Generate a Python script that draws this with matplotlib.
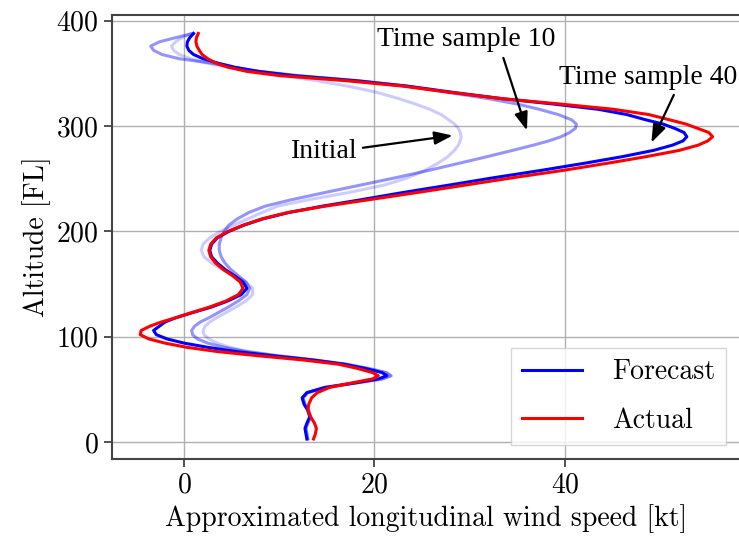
import numpy as np
import matplotlib
matplotlib.use("Agg")
import matplotlib.pyplot as plt

# altitude grid [FL] shared by all profiles
altitude = [3, 8, 13, 18, 24, 30, 36, 42, 47, 52, 56, 60, 63, 66, 70, 74, 78, 82, 86, 90,
            94, 98, 102, 106, 110, 114, 118, 123, 128, 134, 140, 146, 152, 158, 164, 170,
            176, 182, 188, 194, 200, 206, 212, 218, 224, 230, 237, 244, 251, 258, 265, 271,
            277, 282, 286, 290, 294, 298, 302, 306, 311, 316, 321, 326, 332, 338, 343, 348,
            352, 356, 360, 364, 368, 372, 376, 380, 384, 388]

# approximated longitudinal wind speed [kt]
actual = [13.6, 13.8, 13.9, 13.7, 13.3, 13.0, 13.1, 13.4, 14.0, 15.3, 17.5, 19.8, 20.4, 19.8,
          18.2, 16.2, 12.5, 7.8, 3.5, 0.3, -2.0, -3.7, -4.6, -4.5, -3.6, -2.4, -0.9, 0.8,
          2.6, 4.4, 5.7, 6.2, 5.9, 5.1, 4.1, 3.3, 2.8, 2.6, 2.8, 3.4, 4.6, 6.2, 8.2, 10.9,
          14.8, 19.3, 24.5, 29.5, 34.5, 39.8, 44.6, 48.5, 52.0, 54.0, 55.0, 55.5, 55.1,
          53.9, 52.7, 51.0, 48.8, 45.1, 39.5, 33.5, 28.0, 23.0, 17.2, 10.0, 6.6, 4.6, 3.3,
          2.5, 1.9, 1.6, 1.35, 1.25, 1.3, 1.5]

forecast = [12.9, 12.8, 12.7, 12.9, 13.2, 13.0, 12.6, 12.4, 12.9, 14.8, 17.8, 20.4, 21.3, 20.8,
            19.0, 16.8, 13.5, 9.3, 5.5, 2.5, 0.0, -1.8, -2.9, -3.2, -2.6, -2.0, -0.9, 0.9,
            2.8, 4.6, 6.0, 6.6, 6.2, 5.3, 4.3, 3.5, 2.9, 2.7, 2.9, 3.5, 4.7, 6.3, 8.3, 11.0,
            14.5, 18.5, 23.0, 27.8, 32.5, 37.5, 42.2, 46.0, 49.3, 51.3, 52.4, 52.8, 52.5,
            51.5, 50.3, 48.5, 46.5, 43.5, 38.8, 33.5, 28.3, 23.5, 18.2, 11.5, 7.8, 5.3, 3.5,
            2.0, 1.0, 0.5, 0.3, 0.35, 0.6, 1.0]

sample_10 = [13.0, 12.9, 12.8, 13.0, 13.3, 13.1, 12.7, 12.5, 13.0, 15.0, 18.0, 20.8, 21.7, 21.2,
             19.3, 17.0, 13.7, 9.8, 6.5, 4.2, 2.5, 1.4, 0.9, 0.8, 1.1, 1.7, 2.6, 3.6,
             4.6, 5.7, 6.6, 6.9, 6.5, 5.7, 4.9, 4.3, 3.9, 3.7, 3.7, 3.9, 4.2, 4.7, 5.6, 6.8,
             8.5, 11.2, 14.8, 18.5, 22.2, 25.7, 29.0, 31.8, 34.5, 36.7, 38.3, 39.6, 40.5,
             41.1, 41.2, 40.7, 39.3, 37.3, 35.0, 32.0, 27.8, 23.3, 18.5, 12.0, 8.0, 5.0, 2.8,
             -0.5, -2.3, -3.2, -3.5, -2.6, -0.9, 0.9]

initial = [13.0, 12.9, 12.8, 13.0, 13.3, 13.1, 12.7, 12.5, 13.0, 15.0, 18.0, 20.9, 21.8, 21.3,
           19.4, 17.1, 13.8, 10.0, 6.8, 4.8, 3.5, 2.6, 2.1, 2.0, 2.2, 2.7, 3.4, 4.4,
           5.4, 6.5, 7.2, 7.2, 6.5, 5.3, 4.0, 2.9, 2.1, 1.8, 2.0, 2.7, 3.8, 5.2, 6.7, 8.2,
           9.8, 13.0, 17.3, 21.0, 23.5, 25.3, 26.7, 27.7, 28.4, 28.8, 29.0, 29.1, 29.0,
           28.8, 28.4, 27.8, 27.0, 25.8, 24.3, 22.6, 20.3, 17.2, 14.0, 10.5, 7.5, 4.6, 2.3,
           0.7, -0.5, -1.1, -1.3, -0.9, -0.2, 0.8]

plt.rcParams['font.family'] = 'serif'
plt.rcParams['font.serif'] = ['cmr10']
plt.rcParams['mathtext.fontset'] = 'cm'
plt.rcParams['axes.formatter.use_mathtext'] = True

fig = plt.figure(figsize=(7.39, 5.37), dpi=100)
ax = fig.add_axes([0.1516, 0.1453, 0.85, 0.8267])

ax.grid(True, color='#b0b0b0', linewidth=1.0)
ax.set_axisbelow(True)

# older forecasts drawn faded underneath
ax.plot(initial, altitude, color='blue', alpha=0.2, linewidth=2.2)
ax.plot(sample_10, altitude, color='blue', alpha=0.42, linewidth=2.2)
ax.plot(forecast, altitude, color='blue', linewidth=2.2, label='Forecast')
ax.plot(actual, altitude, color='red', linewidth=2.2, label='Actual')

ax.set_xlim(-7.56, 58.4)
ax.set_ylim(-16, 405.5)
ax.set_xticks([0, 20, 40])
ax.set_yticks([0, 100, 200, 300, 400])
ax.tick_params(labelsize=20, length=6, width=1.2, color='#333333')
for s in ax.spines.values():
    s.set_color('#444444')
    s.set_linewidth(1.5)

ax.set_xlabel('Approximated longitudinal wind speed [kt]', fontsize=20)
ax.set_ylabel('Altitude [FL]', fontsize=20)

def arrow(rel):
    return dict(arrowstyle='-|>,head_length=0.55,head_width=0.2', color='black', lw=1.6,
                mutation_scale=20, relpos=rel)

ann_font = dict(family='Liberation Serif', fontsize=20)
ax.annotate('Initial', xy=(28.5, 291.5), xytext=(14.7, 276.4), ha='center', va='center',
            arrowprops=arrow((1.0, 0.6)), **ann_font)
ax.annotate('Time sample 10', xy=(36.1, 293.4), xytext=(29.6, 381.8), ha='center', va='center',
            arrowprops=arrow((0.7, 0.0)), **ann_font)
ax.annotate('Time sample 40', xy=(48.95, 282.0), xytext=(48.7, 346.6), ha='center', va='center',
            arrowprops=arrow((0.66, 0.0)), **ann_font)

leg = ax.legend(loc='lower right', fontsize=20, fancybox=False, framealpha=0.8,
                edgecolor='#cccccc', handlelength=2.15, handletextpad=1.1, labelspacing=0.8)

fig.savefig('out.png', dpi=100)
